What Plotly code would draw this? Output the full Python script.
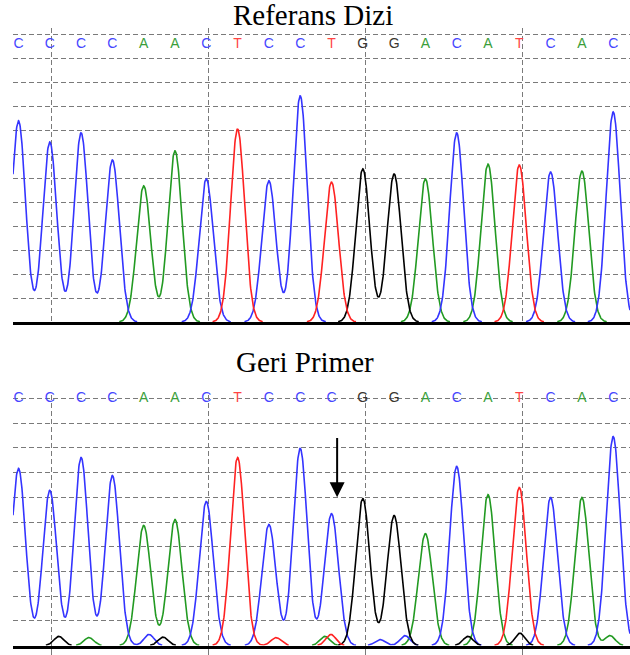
import numpy as np
import plotly.graph_objects as go

# ---------------- data ----------------
BASE_INDEX = list(range(20))
REF_SEQ = list("CCCCAACTCCTGGACATCAC")
PRIMER_SEQ = list("CCCCAACTCCCGGACATCAC")

# peak heights in grid units (one unit = one dashed grid step)
REF_HEIGHTS = [8.38, 7.50, 7.88, 6.75, 5.67, 7.13, 5.96, 8.04, 5.88, 9.42,
               5.83, 6.38, 6.17, 5.96, 7.88, 6.58, 6.54, 6.25, 6.29, 8.75]
PRIMER_HEIGHTS = [7.17, 6.28, 7.61, 6.88, 4.86, 5.10, 5.83, 7.61, 4.90, 7.98,
                  5.34, 5.95, 5.26, 4.53, 7.25, 6.11, 6.40, 5.99, 5.99, 8.46]

# small background bumps in the reverse-primer trace
NOISE_POS = [1.29, 2.25, 4.17, 4.62, 8.23, 9.79, 9.98, 11.55, 12.35, 14.36, 16.02, 18.90]
NOISE_BASE = ["G", "A", "C", "G", "T", "A", "T", "C", "C", "G", "G", "A"]
NOISE_HEIGHTS = [0.37, 0.32, 0.45, 0.34, 0.32, 0.37, 0.45, 0.24, 0.40, 0.37, 0.50, 0.40]

MUTATION_INDEX = 10
TITLES = ["Referans Dizi", "Geri Primer"]

# ---------------- styling ----------------
TRACE_COLORS = {"A": "#229a22", "C": "#3434ff", "G": "#000000", "T": "#ff2222"}
LETTER_COLORS = {"A": "#3a9e3a", "C": "#4646ff", "G": "#3a3530", "T": "#ff4444"}
GRID_COLOR = "#7a7a7a"
GRID_DASH = "5px,3px"

PEAK_SIGMA = 0.224
NOISE_SIGMA = 0.16
X_MIN, X_MAX = -0.1757, 19.537

W, H = 630, 655


def channel_curve(xs, seq, heights, base, npos=(), nbase=(), nh=()):
    y = np.zeros_like(xs)
    for i, (b, h) in enumerate(zip(seq, heights)):
        if b == base:
            y += h * np.exp(-0.5 * ((xs - BASE_INDEX[i]) / PEAK_SIGMA) ** 2)
    for p, b, h in zip(npos, nbase, nh):
        if b == base:
            y += h * np.exp(-0.5 * ((xs - p) / NOISE_SIGMA) ** 2)
    # the flat part of each trace is hidden behind the black baseline
    y[y < 0.012] = np.nan
    return y


xs = np.linspace(X_MIN, X_MAX, 1800)

fig = go.Figure()

panels = [
    dict(seq=REF_SEQ, heights=REF_HEIGHTS, noise=((), (), ()), xa="x", ya="y", letter_y=11.55),
    dict(seq=PRIMER_SEQ, heights=PRIMER_HEIGHTS, noise=(NOISE_POS, NOISE_BASE, NOISE_HEIGHTS),
         xa="x2", ya="y2", letter_y=10.0),
]

for p in panels:
    for base in ["A", "C", "G", "T"]:
        y = channel_curve(xs, p["seq"], p["heights"], base, *p["noise"])
        fig.add_trace(go.Scatter(x=xs, y=y, mode="lines", xaxis=p["xa"], yaxis=p["ya"],
                                 line=dict(color=TRACE_COLORS[base], width=1.6),
                                 connectgaps=False, hoverinfo="skip", showlegend=False))
    fig.add_trace(go.Scatter(x=BASE_INDEX, y=[p["letter_y"]] * len(BASE_INDEX),
                             mode="text", text=p["seq"], xaxis=p["xa"], yaxis=p["ya"],
                             textfont=dict(family="Liberation Sans", size=14,
                                           color=[LETTER_COLORS[b] for b in p["seq"]]),
                             cliponaxis=False, hoverinfo="skip", showlegend=False))

# geometry (pixel based)
x_dom = [13 / W, 1.0]
top_base, top_top, top_step = 322, 28, 24.0
bot_base, bot_top, bot_step = 645.5, 395, 24.7

common_x = dict(domain=x_dom, range=[X_MIN, X_MAX], showgrid=True, tick0=1.07, dtick=5.016,
                gridcolor=GRID_COLOR, griddash=GRID_DASH, gridwidth=1,
                showticklabels=False, zeroline=False, showline=True,
                linecolor="black", linewidth=3, fixedrange=True)
common_y = dict(showgrid=True, dtick=1, tick0=0, gridcolor=GRID_COLOR, griddash=GRID_DASH,
                gridwidth=1, showticklabels=False, zeroline=False, showline=False,
                ticks="", fixedrange=True)

fig.update_layout(
    width=W, height=H,
    margin=dict(l=0, r=0, t=0, b=0),
    paper_bgcolor="white", plot_bgcolor="white",
    xaxis=dict(**common_x, anchor="y", ticks=""),
    yaxis=dict(**common_y, anchor="x",
               domain=[1 - top_base / H, 1 - top_top / H],
               range=[0, (top_base - top_top) / top_step]),
    xaxis2=dict(**common_x, anchor="y2", ticks="outside", ticklen=7,
                tickcolor=GRID_COLOR, tickwidth=1),
    yaxis2=dict(**common_y, anchor="x2",
                domain=[1 - bot_base / H, 1 - bot_top / H],
                range=[0, (bot_base - bot_top) / bot_step]),
    showlegend=False,
)

fig.add_annotation(text=TITLES[0], xref="paper", yref="paper", x=313 / W, y=1 - 15 / H,
                   xanchor="center", yanchor="middle", showarrow=False,
                   font=dict(family="Liberation Serif", size=29, color="black"))
fig.add_annotation(text=TITLES[1], xref="paper", yref="paper", x=305 / W, y=1 - 362 / H,
                   xanchor="center", yanchor="middle", showarrow=False,
                   font=dict(family="Liberation Serif", size=29, color="black"))

# arrow pointing at the altered base
arrow_x = BASE_INDEX[MUTATION_INDEX] + 0.18
fig.add_annotation(x=arrow_x, y=6.0, xref="x2", yref="y2",
                   ax=arrow_x, ay=8.46, axref="x2", ayref="y2",
                   text="", showarrow=True, arrowhead=2, arrowsize=1.5,
                   arrowwidth=2, arrowcolor="black", standoff=0)

fig.write_html("out.html", config={"displayModeBar": False},
               post_script="document.body.style.margin='0px';document.body.style.overflow='hidden';")
